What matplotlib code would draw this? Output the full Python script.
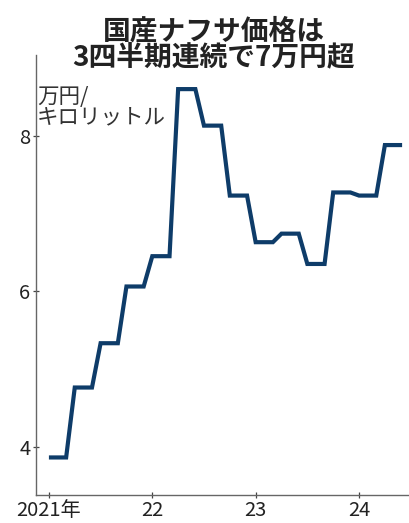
import matplotlib as mpl
import numpy as np
mpl.use('Agg')
import matplotlib.pyplot as plt

plt.rcParams['font.family'] = ['Noto Sans CJK JP', 'DejaVu Sans']

# 国産ナフサ価格 (万円/キロリットル), 2021年1月〜2024年6月, 月次
price = [3.86, 3.86, 3.86, 4.76, 4.76, 4.76, 5.33, 5.33, 5.33, 6.06, 6.06, 6.06,
         6.45, 6.45, 6.45, 8.60, 8.60, 8.60, 8.13, 8.13, 8.13, 7.23, 7.23, 7.23,
         6.63, 6.63, 6.63, 6.74, 6.74, 6.74, 6.35, 6.35, 6.35, 7.27, 7.27, 7.27,
         7.23, 7.23, 7.23, 7.88, 7.88, 7.88]
months = np.arange(len(price))
year_ticks = [0, 12, 24, 36]
year_labels = ['2021年', '22', '23', '24']
y_ticks = [4, 6, 8]

fig = plt.figure(figsize=(4.09, 5.23), dpi=100)
ax = fig.add_axes([0.088, 0.054, 0.912, 0.841])

ax.plot(months, price, color='#0e3c69', lw=3.0, solid_joinstyle='miter', solid_capstyle='butt')

ax.set_xlim(-1.5, 41.8)
ax.set_ylim(3.38, 9.04)
ax.set_xticks(year_ticks)
ax.set_xticklabels(year_labels)
ax.set_yticks(y_ticks)
ax.tick_params(axis='both', labelsize=14.5, colors='#444444', labelcolor='#222222',
               length=4, width=0.9, direction='inout', pad=2)

for s in ['top', 'right']:
    ax.spines[s].set_visible(False)
for s in ['left', 'bottom']:
    ax.spines[s].set_color('#666666')
    ax.spines[s].set_linewidth(1.0)

ax.text(0.003, 0.93, '万円/\nキロリットル', transform=ax.transAxes, fontsize=15.5,
        color='#333333', va='top', ha='left', linespacing=0.9)

fig.text(0.522, 0.967, '国産ナフサ価格は\n3四半期連続で7万円超', ha='center', va='top',
         fontsize=20, fontweight='bold', color='#222222', linespacing=0.9)

plt.savefig('out.png', dpi=100)
